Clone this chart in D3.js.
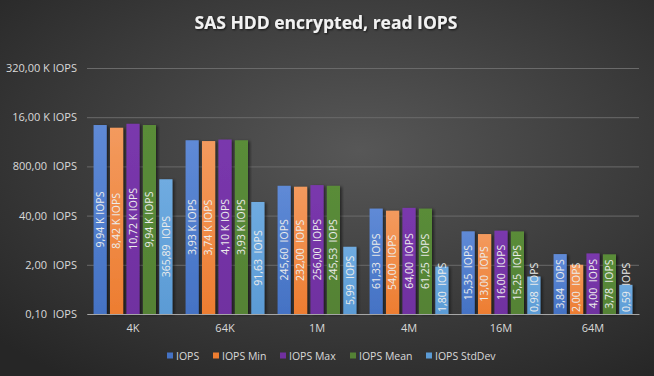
<!DOCTYPE html>
<html>
<head>
<meta charset="utf-8">
<script src="https://cdn.jsdelivr.net/npm/d3@7"></script>
<style>
  html, body { margin: 0; padding: 0; background: #333; }
  svg text { font-family: "Open Sans", "Noto Sans", sans-serif; }
</style>
</head>
<body>
<div id="chart"></div>
<script>
// data
const categories = ['4K', '64K', '1M', '4M', '16M', '64M'];
const seriesNames = ['IOPS', 'IOPS Min', 'IOPS Max', 'IOPS Mean', 'IOPS StdDev'];
const iops       = [9940, 3930, 245.60, 61.33, 15.35, 3.84];
const iopsMin    = [8420, 3740, 232.00, 54.00, 13.00, 2.00];
const iopsMax    = [10720, 4100, 256.00, 64.00, 16.00, 4.00];
const iopsMean   = [9940, 3930, 245.53, 61.25, 15.25, 3.78];
const iopsStdDev = [365.89, 91.63, 5.99, 1.80, 0.98, 0.59];
const yTicks = [0.1, 2, 40, 800, 16000, 320000];

const seriesValues = [iops, iopsMin, iopsMax, iopsMean, iopsStdDev];
const colors = ['#4472c4', '#ed7d31', '#7030a0', '#548235', '#5b9bd5'];
const colorsTop = ['#5f8ad6', '#f39a5e', '#7a38ad', '#5a8c39', '#6fabe0'];

const width = 654, height = 376;
const margin = {top: 68, bottom: 62, left: 87, right: 15};

const svg = d3.select('#chart').append('svg')
    .attr('width', width).attr('height', height);

// background
const defs = svg.append('defs');
const bg = defs.append('radialGradient').attr('id', 'bg')
    .attr('cx', '55%').attr('cy', '40%').attr('r', '75%');
bg.append('stop').attr('offset', '0%').attr('stop-color', '#575757');
bg.append('stop').attr('offset', '100%').attr('stop-color', '#262626');
svg.append('rect').attr('width', width).attr('height', height).attr('fill', 'url(#bg)');

seriesNames.forEach((s, i) => {
    const g = defs.append('linearGradient').attr('id', 'g' + i)
        .attr('x1', 0).attr('y1', 0).attr('x2', 0).attr('y2', 1);
    g.append('stop').attr('offset', '0%').attr('stop-color', colorsTop[i]);
    g.append('stop').attr('offset', '100%').attr('stop-color', colors[i]);
});
const shadow = defs.append('filter').attr('id', 'shadow')
    .attr('x', '-30%').attr('y', '-10%').attr('width', '160%').attr('height', '130%');
shadow.append('feDropShadow').attr('dx', 2).attr('dy', 1).attr('stdDeviation', 1.5)
    .attr('flood-color', '#000').attr('flood-opacity', 0.5);
const tshadow = defs.append('filter').attr('id', 'tshadow');
tshadow.append('feDropShadow').attr('dx', 1).attr('dy', 1).attr('stdDeviation', 1)
    .attr('flood-color', '#000').attr('flood-opacity', 0.7);

// scales
const x0 = d3.scaleBand().domain(categories)
    .range([margin.left, width - margin.right]).padding(0);
const x1 = d3.scaleBand().domain(seriesNames)
    .range([0, x0.bandwidth()]).paddingInner(0.2).paddingOuter(0.4);
const y = d3.scaleLog().base(20).domain([0.1, 320000])
    .range([height - margin.bottom, margin.top]);

const fmt = v => v >= 1000
    ? (v / 1000).toFixed(2).replace('.', ',') + ' K IOPS'
    : v.toFixed(2).replace('.', ',') + '  IOPS';

// gridlines + y axis
const yAxis = svg.append('g')
    .attr('transform', `translate(${margin.left},0)`)
    .call(d3.axisLeft(y).tickValues(yTicks).tickFormat(fmt)
        .tickSize(-(width - margin.left - margin.right)).tickPadding(10));
yAxis.select('.domain').remove();
yAxis.selectAll('.tick line').attr('stroke', '#6a6a6a').attr('stroke-width', 1);
yAxis.selectAll('.tick text').attr('fill', '#d9d9d9').attr('font-size', 11)
    .style('white-space', 'pre');

// bars
const groups = svg.append('g').selectAll('g')
    .data(categories).join('g')
    .attr('transform', d => `translate(${x0(d)},0)`);

const cells = groups.selectAll('g.bar')
    .data((c, ci) => seriesNames.map((s, si) => ({s, si, v: seriesValues[si][ci]})))
    .join('g').attr('class', 'bar');

cells.append('rect')
    .attr('x', d => x1(d.s))
    .attr('width', x1.bandwidth())
    .attr('y', d => y(d.v))
    .attr('height', d => y.range()[0] - y(d.v))
    .attr('fill', d => `url(#g${d.si})`)
    .attr('filter', 'url(#shadow)');

cells.append('text')
    .text(d => fmt(d.v))
    .attr('fill', '#ececec')
    .attr('font-size', 10.5)
    .style('white-space', 'pre')
    .attr('text-anchor', 'middle')
    .attr('dy', '0.35em')
    .each(function(d) {
        const len = this.getComputedTextLength();
        const base = y.range()[0];
        let cy = (y(d.v) + base) / 2;
        if (cy + len / 2 > base - 2) cy = base - 2 - len / 2;
        const cx = x1(d.s) + x1.bandwidth() / 2;
        d3.select(this).attr('transform', `translate(${cx},${cy}) rotate(-90)`);
    });

// x axis
const xAxis = svg.append('g')
    .attr('transform', `translate(0,${height - margin.bottom})`)
    .call(d3.axisBottom(x0).tickSize(0).tickPadding(10));
xAxis.select('.domain').attr('stroke', '#a6a6a6').attr('stroke-width', 1);
xAxis.selectAll('.tick text').attr('fill', '#d9d9d9').attr('font-size', 11);

// title
svg.append('text')
    .attr('x', 326).attr('y', 29)
    .attr('text-anchor', 'middle')
    .attr('font-size', 17.5).attr('font-weight', 'bold')
    .attr('fill', '#f2f2f2')
    .attr('filter', 'url(#tshadow)')
    .text('SAS HDD encrypted, read IOPS');

// legend
const legendX = [167, 213, 280, 350, 426];
const legend = svg.append('g').selectAll('g')
    .data(seriesNames).join('g')
    .attr('transform', (d, i) => `translate(${legendX[i]},356)`);
legend.append('rect').attr('x', 0).attr('y', -3.5).attr('width', 6).attr('height', 6)
    .attr('fill', (d, i) => colors[i]);
legend.append('text').attr('x', 9).attr('dy', '0.35em')
    .attr('fill', '#d9d9d9').attr('font-size', 10.5)
    .text(d => d);
</script>
</body>
</html>
